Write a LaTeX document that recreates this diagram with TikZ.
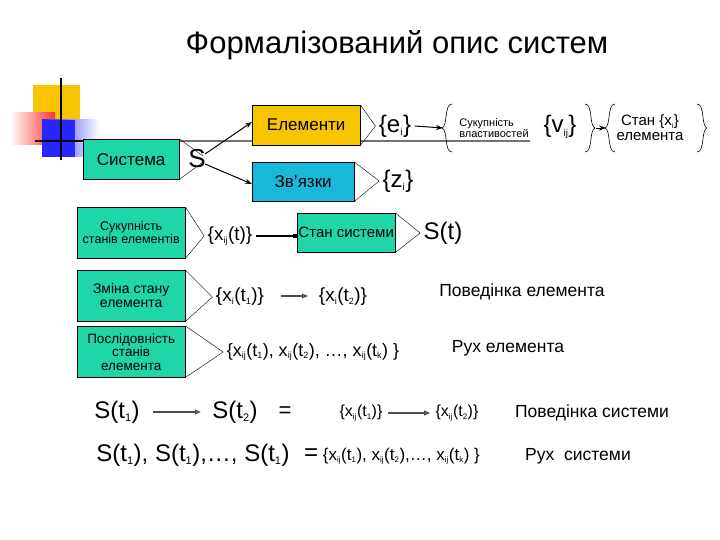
\documentclass[tikz,border=0pt]{standalone}
\usepackage{fontspec}
\setmainfont{Liberation Sans}
\usetikzlibrary{arrows.meta,decorations.pathreplacing,calc}
\definecolor{grn}{RGB}{30,214,168}
\definecolor{org}{RGB}{246,196,0}
\definecolor{cyn}{RGB}{26,184,216}
\definecolor{agrn}{RGB}{120,220,190}
\tikzset{
 box/.style={draw=black,fill=grn,inner sep=0pt,anchor=north west,align=center},
 tri/.style={draw=black,line width=0.4pt},
 arr/.style={-{Stealth[length=7pt,width=5pt]},line width=1pt},
 garr/.style={-{Triangle[length=6pt,width=5pt,fill=agrn]},line width=1.2pt,draw=black!70},
 fs/.style={font=\fontsize{#1}{#1}\selectfont},
}
\begin{document}
\begin{tikzpicture}[x=1pt,y=-1pt]
\useasboundingbox (0,0) rectangle (720,540);
% decoration
\fill[org] (33,85) rectangle (80,128);
\shade[left color=white,right color=red!80] (10,113) rectangle (55,145);
\shade[left color=blue!85,right color=white] (42,120) rectangle (100,157);
\fill[blue!85] (42,120) rectangle (75,157);
\draw[black!55,line width=2pt] (60,141) -- (530,141);
\draw[black,line width=2pt] (35,141) -- (90,141);
\draw[black,line width=2pt] (61,78) -- (61,160);
\node[fs=31] (title) at (397,45) {Формалізований опис систем};
% Sistema
\node[box,minimum width=96pt,minimum height=40pt,fs=17] (sys) at (83,139) {Система};
\node[fs=26] (S) at (197,159) {S};
\draw[tri] (sys.north east) -- ($(S.center)+(6,-3)$);
\draw[tri] (sys.south east) -- ($(S.center)+(6,3)$);
\node[box,fill=org,minimum width=108pt,minimum height=40pt,fs=17] (el) at (252,105) {Елементи};
\node[box,fill=cyn,minimum width=102pt,minimum height=39pt,fs=17] (zv) at (252,162) {Зв’язки};
\draw[arr] ($(S.center)+(8,-5)$) -- (el.west |- 0,122);
\draw[arr] ($(S.center)+(8,5)$) -- (zv.west |- 0,184);
\node[fs=24] (ei) at (395,126) {\{e\textsubscript{\fontsize{10}{10}\selectfont i}\}};
\draw[tri] (el.north east) -- (ei.west);
\draw[tri] (el.south east) -- (ei.west);
\node[fs=24] (zi) at (398,181) {\{z\textsubscript{\fontsize{10}{10}\selectfont i}\}};
\draw[tri] (zv.north east) -- (zi.west);
\draw[tri] (zv.south east) -- (zi.west);
% braces group
\coordinate (b1t) at (452,104); \coordinate (b1b) at (452,152);
\draw[line width=0.6pt] (b1b) .. controls (444,152) and (448,130) .. (442,128) .. controls (448,126) and (444,104) .. (b1t);
\draw[arr] (ei.east) -- (443,128);
\node[fs=11,align=left,inner sep=0pt] (suk) at (494,128) {Сукупність\\властивостей};
\node[fs=24] (vij) at (560,127) {\{v\textsubscript{\fontsize{10}{10}\selectfont ij}\}};
\draw[line width=0.6pt] (585,104) .. controls (593,104) and (589,126) .. (595,128) .. controls (589,130) and (593,152) .. (585,152);
\draw[line width=0.6pt] (615,104) .. controls (607,104) and (611,126) .. (605,128) .. controls (611,130) and (607,152) .. (615,152);
\draw[arr,line width=0.8pt] (596,128) -- (606,128);
\node[fs=15,align=center,inner sep=0pt] (stan) at (650,128) {Стан \{x\textsubscript{\fontsize{7}{7}\selectfont i}\}\\елемента};
\draw[line width=0.6pt] (697,104) .. controls (705,104) and (701,126) .. (707,128) .. controls (701,130) and (705,152) .. (697,152);
% row 2
\node[box,minimum width=108pt,minimum height=51pt,fs=12.5] (r2) at (77,207) {Сукупність\\станів елементів};
\node[fs=19] (xijt) at (230,236) {\{x\textsubscript{\fontsize{9}{9}\selectfont ij}(t)\}};
\draw[tri] (r2.north east) -- (xijt.west);
\draw[tri] (r2.south east) -- (xijt.west);
\node[box,minimum width=98pt,minimum height=39pt,fs=15] (ss) at (297,213) {Стан системи};
\draw[-{Square[length=4pt]},line width=1.2pt] (xijt.east) -- (ss.west |- xijt.east);
\node[fs=24] (St) at (443,233) {S(t)};
\draw[tri] (ss.north east) -- (St.west);
\draw[tri] (ss.south east) -- (St.west);
% row 3
\node[box,minimum width=108pt,minimum height=51pt,fs=14] (r3) at (77,270) {Зміна стану\\елемента};
\node[fs=19] (xit1) at (240,297) {\{x\textsubscript{\fontsize{9}{9}\selectfont i}(t\textsubscript{\fontsize{9}{9}\selectfont 1})\}};
\draw[tri] (r3.north east) -- (xit1.west);
\draw[tri] (r3.south east) -- (xit1.west);
\node[fs=19] (xit2) at (343,297) {\{x\textsubscript{\fontsize{9}{9}\selectfont i}(t\textsubscript{\fontsize{9}{9}\selectfont 2})\}};
\draw[garr] (281,296) -- (308,296);
\node[fs=17.5] (pe) at (522,292) {Поведінка елемента};
% row 4
\node[box,minimum width=108pt,minimum height=51pt,fs=13.5] (r4) at (77,326) {Послідовність\\станів\\елемента};
\node[fs=18] (seq) at (313,352) {\{x\textsubscript{\fontsize{9}{9}\selectfont ij}(t\textsubscript{\fontsize{9}{9}\selectfont 1}), x\textsubscript{\fontsize{9}{9}\selectfont ij}(t\textsubscript{\fontsize{9}{9}\selectfont 2}), …, x\textsubscript{\fontsize{9}{9}\selectfont ij}(t\textsubscript{\fontsize{9}{9}\selectfont k}) \}};
\draw[tri] (r4.north east) -- (seq.west);
\draw[tri] (r4.south east) -- (seq.west);
\node[fs=17.5] (re) at (508,348) {Рух елемента};
% row 5
\node[fs=24] (s1) at (117,412) {S(t\textsubscript{\fontsize{11}{11}\selectfont 1})};
\node[fs=24] (s2) at (235,412) {S(t\textsubscript{\fontsize{11}{11}\selectfont 2})};
\draw[garr,shorten <=10pt,shorten >=8pt] (s1.east) -- (s2.west);
\node[fs=22] (eq1) at (285,412) {=};
\node[fs=16] (x1) at (361,413) {\{x\textsubscript{\fontsize{8}{8}\selectfont ij}(t\textsubscript{\fontsize{8}{8}\selectfont 1})\}};
\node[fs=16] (x2) at (457,413) {\{x\textsubscript{\fontsize{8}{8}\selectfont ij}(t\textsubscript{\fontsize{8}{8}\selectfont 2})\}};
\draw[garr,shorten <=2pt,shorten >=2pt] (x1.east) -- (x2.west);
\node[fs=17.5] (ps) at (592,413) {Поведінка системи};
% row 6
\node[fs=24] (ss6) at (193,455) {S(t\textsubscript{\fontsize{11}{11}\selectfont 1}), S(t\textsubscript{\fontsize{11}{11}\selectfont 1}),…, S(t\textsubscript{\fontsize{11}{11}\selectfont 1})};
\node[fs=17,anchor=west,inner sep=0pt] (eq6) at (304,456) {{\fontsize{24}{24}\selectfont =} \{x\textsubscript{\fontsize{8}{8}\selectfont ij}(t\textsubscript{\fontsize{8}{8}\selectfont 1}), x\textsubscript{\fontsize{8}{8}\selectfont ij}(t\textsubscript{\fontsize{8}{8}\selectfont 2}),…, x\textsubscript{\fontsize{8}{8}\selectfont ij}(t\textsubscript{\fontsize{8}{8}\selectfont k}) \}};
\node[fs=17.5] (rs) at (578,456) {Рух\ \ системи};
\end{tikzpicture}
\end{document}
